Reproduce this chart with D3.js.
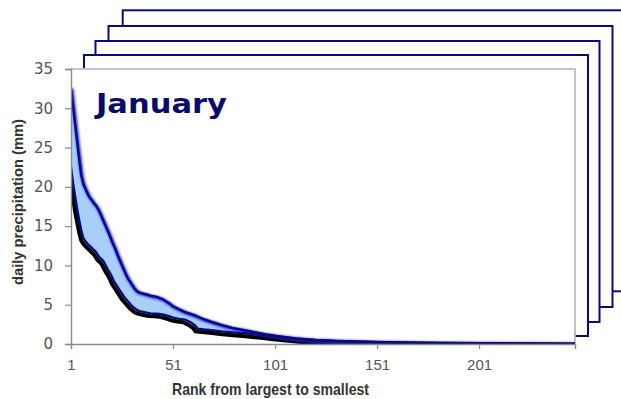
<!DOCTYPE html>
<html>
<head>
<meta charset="utf-8">
<script src="https://cdn.jsdelivr.net/npm/d3@7/dist/d3.min.js"></script>
<style>
  html, body { margin: 0; padding: 0; background: #fff; }
  svg { display: block; }
</style>
</head>
<body>
<svg id="chart" width="621" height="399"></svg>
<script>
// Rank of each day (largest to smallest) and the daily precipitation envelope (mm)
const ranks = [1,2,3,4,5,6,7,8,9,10,11,12,13,14,15,16,17,18,19,20,21,22,23,24,25,26,27,28,29,30,31,32,33,34,
  36,38,40,43,46,49,51,54,57,60,62,63,66,70,75,80,86,91,96,101,106,111,116,121,131,141,151,161,171,181,191,201,221,248];
const upper = [32.6,30.3,28.0,25.8,23.6,21.5,20.4,19.8,19.2,18.7,18.4,18.0,17.7,17.3,16.8,16.2,15.6,15.0,14.4,13.8,
  13.1,12.5,11.9,11.2,10.6,10.0,9.4,8.8,8.3,7.9,7.5,7.1,6.8,6.6,
  6.45,6.3,6.15,6.0,5.7,5.2,4.8,4.4,4.05,3.8,3.6,3.5,3.15,2.8,2.4,2.05,1.75,1.5,1.25,1.05,0.88,0.72,0.6,0.5,
  0.4,0.32,0.26,0.21,0.17,0.14,0.12,0.1,0.07,0.04];
const lower = [22.5,20.5,18.8,17.2,15.8,14.5,13.5,13.1,12.8,12.5,12.3,12.0,11.8,11.4,11.0,10.8,10.5,10.0,9.5,9.1,
  8.6,8.0,7.6,7.2,6.8,6.4,6.0,5.7,5.4,5.1,4.8,4.6,4.4,4.25,
  4.1,4.0,3.9,3.85,3.75,3.55,3.35,3.2,3.1,2.7,2.3,1.95,1.85,1.75,1.6,1.48,1.36,1.22,1.08,0.95,0.82,0.68,0.56,0.47,
  0.37,0.3,0.24,0.19,0.15,0.13,0.11,0.09,0.06,0.03];
const xTicks = [1, 51, 101, 151, 201];
const yTicks = [0, 5, 10, 15, 20, 25, 30, 35];
const monthLabel = "January";
const xTitle = "Rank from largest to smallest";
const yTitle = "daily precipitation (mm)";

const svg = d3.select("#chart");
const navy = "#0a0a78";

// Stack of month panels behind the front chart (back to front)
const panelW = 504, panelH = 281;
const panels = [
  { x: 122.7, y: 10.3 },
  { x: 108.5, y: 26 },
  { x: 95.5, y: 41 },
  { x: 84, y: 55 }
];
svg.append("g").selectAll("rect").data(panels).join("rect")
  .attr("x", d => d.x).attr("y", d => d.y)
  .attr("width", panelW).attr("height", panelH)
  .attr("fill", "#fff").attr("stroke", navy).attr("stroke-width", 2);

// Front panel
const plot = { left: 71, right: 575, top: 69, bottom: 344 };
svg.append("rect").attr("x", 0).attr("y", 68).attr("width", plot.right).attr("height", 399 - 68).attr("fill", "#fff");

const x = d3.scaleLinear().domain([1, 248]).range([plot.left, plot.right]);
const y = d3.scaleLinear().domain([0, 35]).range([plot.bottom, plot.top]);

// plot border (top and right)
svg.append("path")
  .attr("d", `M${plot.left},${plot.top}H${plot.right}V${plot.bottom}`)
  .attr("fill", "none").attr("stroke", "#b4b4b4").attr("stroke-width", 1.6);

const defs = svg.append("defs");
defs.append("clipPath").attr("id", "plotClip").append("rect")
  .attr("x", plot.left).attr("y", plot.top - 10)
  .attr("width", plot.right - plot.left).attr("height", plot.bottom - plot.top + 10);
const glow = defs.append("filter").attr("id", "glow").attr("x", "-10%").attr("y", "-10%").attr("width", "120%").attr("height", "120%");
glow.append("feGaussianBlur").attr("stdDeviation", 0.9);
const soft = defs.append("filter").attr("id", "soft").attr("x", "-10%").attr("y", "-10%").attr("width", "120%").attr("height", "120%");
soft.append("feGaussianBlur").attr("stdDeviation", 0.45);

const rows = ranks.map((r, i) => ({ r, hi: upper[i], lo: lower[i] }));
const g = svg.append("g").attr("clip-path", "url(#plotClip)");

const area = d3.area().x(d => x(d.r)).y0(d => y(d.lo)).y1(d => y(d.hi));
const lineHi = d3.line().x(d => x(d.r)).y(d => y(d.hi));
const lineLo = d3.line().x(d => x(d.r)).y(d => y(d.lo));

// shadow beneath the lower edge
g.append("path").datum(rows).attr("d", lineLo)
  .attr("transform", "translate(-2,2.6)")
  .attr("fill", "none").attr("stroke", "#000").attr("stroke-width", 4)
  .attr("filter", "url(#soft)");
g.append("path").datum(rows).attr("d", area).attr("fill", "#a7cff8");
// soft blue halo along the upper edge
g.append("path").datum(rows).attr("d", lineHi)
  .attr("transform", "translate(0.8,0.8)")
  .attr("fill", "none").attr("stroke", "#2828ff").attr("stroke-width", 3.6).attr("filter", "url(#glow)");
g.append("path").datum(rows).attr("d", lineLo)
  .attr("fill", "none").attr("stroke", navy).attr("stroke-width", 2.4);
g.append("path").datum(rows).attr("d", lineHi)
  .attr("fill", "none").attr("stroke", navy).attr("stroke-width", 2.4);

// axes
const axisColor = "#8a8a8a";
const yAxis = svg.append("g").attr("transform", `translate(${plot.left},0)`)
  .call(d3.axisLeft(y).tickValues(yTicks).tickSize(6).tickPadding(12).tickFormat(d3.format("d")));
const xAxis = svg.append("g").attr("transform", `translate(0,${plot.bottom})`)
  .call(d3.axisBottom(x).tickValues(xTicks).tickSize(5).tickPadding(10).tickFormat(d3.format("d")));
[yAxis, xAxis].forEach(a => {
  a.select(".domain").attr("stroke", axisColor).attr("stroke-width", 1.4);
  a.selectAll(".tick line").attr("stroke", axisColor).attr("stroke-width", 1.2);
});
yAxis.selectAll(".tick text")
  .attr("font-family", "'DejaVu Sans', Verdana, sans-serif").attr("font-size", 15).attr("fill", "#555");
xAxis.selectAll(".tick text")
  .attr("font-family", "'Liberation Sans', sans-serif").attr("font-size", 15).attr("fill", "#555");

// titles
svg.append("text").text(xTitle)
  .attr("x", 270.5).attr("y", 395).attr("text-anchor", "middle")
  .attr("font-family", "'Liberation Sans', sans-serif")
  .attr("font-weight", "bold").attr("font-size", 16.5).attr("fill", "#333")
  .attr("textLength", 197).attr("lengthAdjust", "spacingAndGlyphs");
svg.append("text").text(yTitle)
  .attr("transform", "translate(23,202) rotate(-90)").attr("text-anchor", "middle")
  .attr("font-family", "'Liberation Sans', sans-serif")
  .attr("font-weight", "bold").attr("font-size", 15).attr("fill", "#333")
  .attr("textLength", 166).attr("lengthAdjust", "spacingAndGlyphs");

svg.append("text").text(monthLabel)
  .attr("x", 96).attr("y", 113)
  .attr("font-family", "'DejaVu Sans', Verdana, sans-serif").attr("font-weight", "bold")
  .attr("font-size", 26).attr("fill", "#0a0a6e")
  .attr("textLength", 131).attr("lengthAdjust", "spacingAndGlyphs");
</script>
</body>
</html>
